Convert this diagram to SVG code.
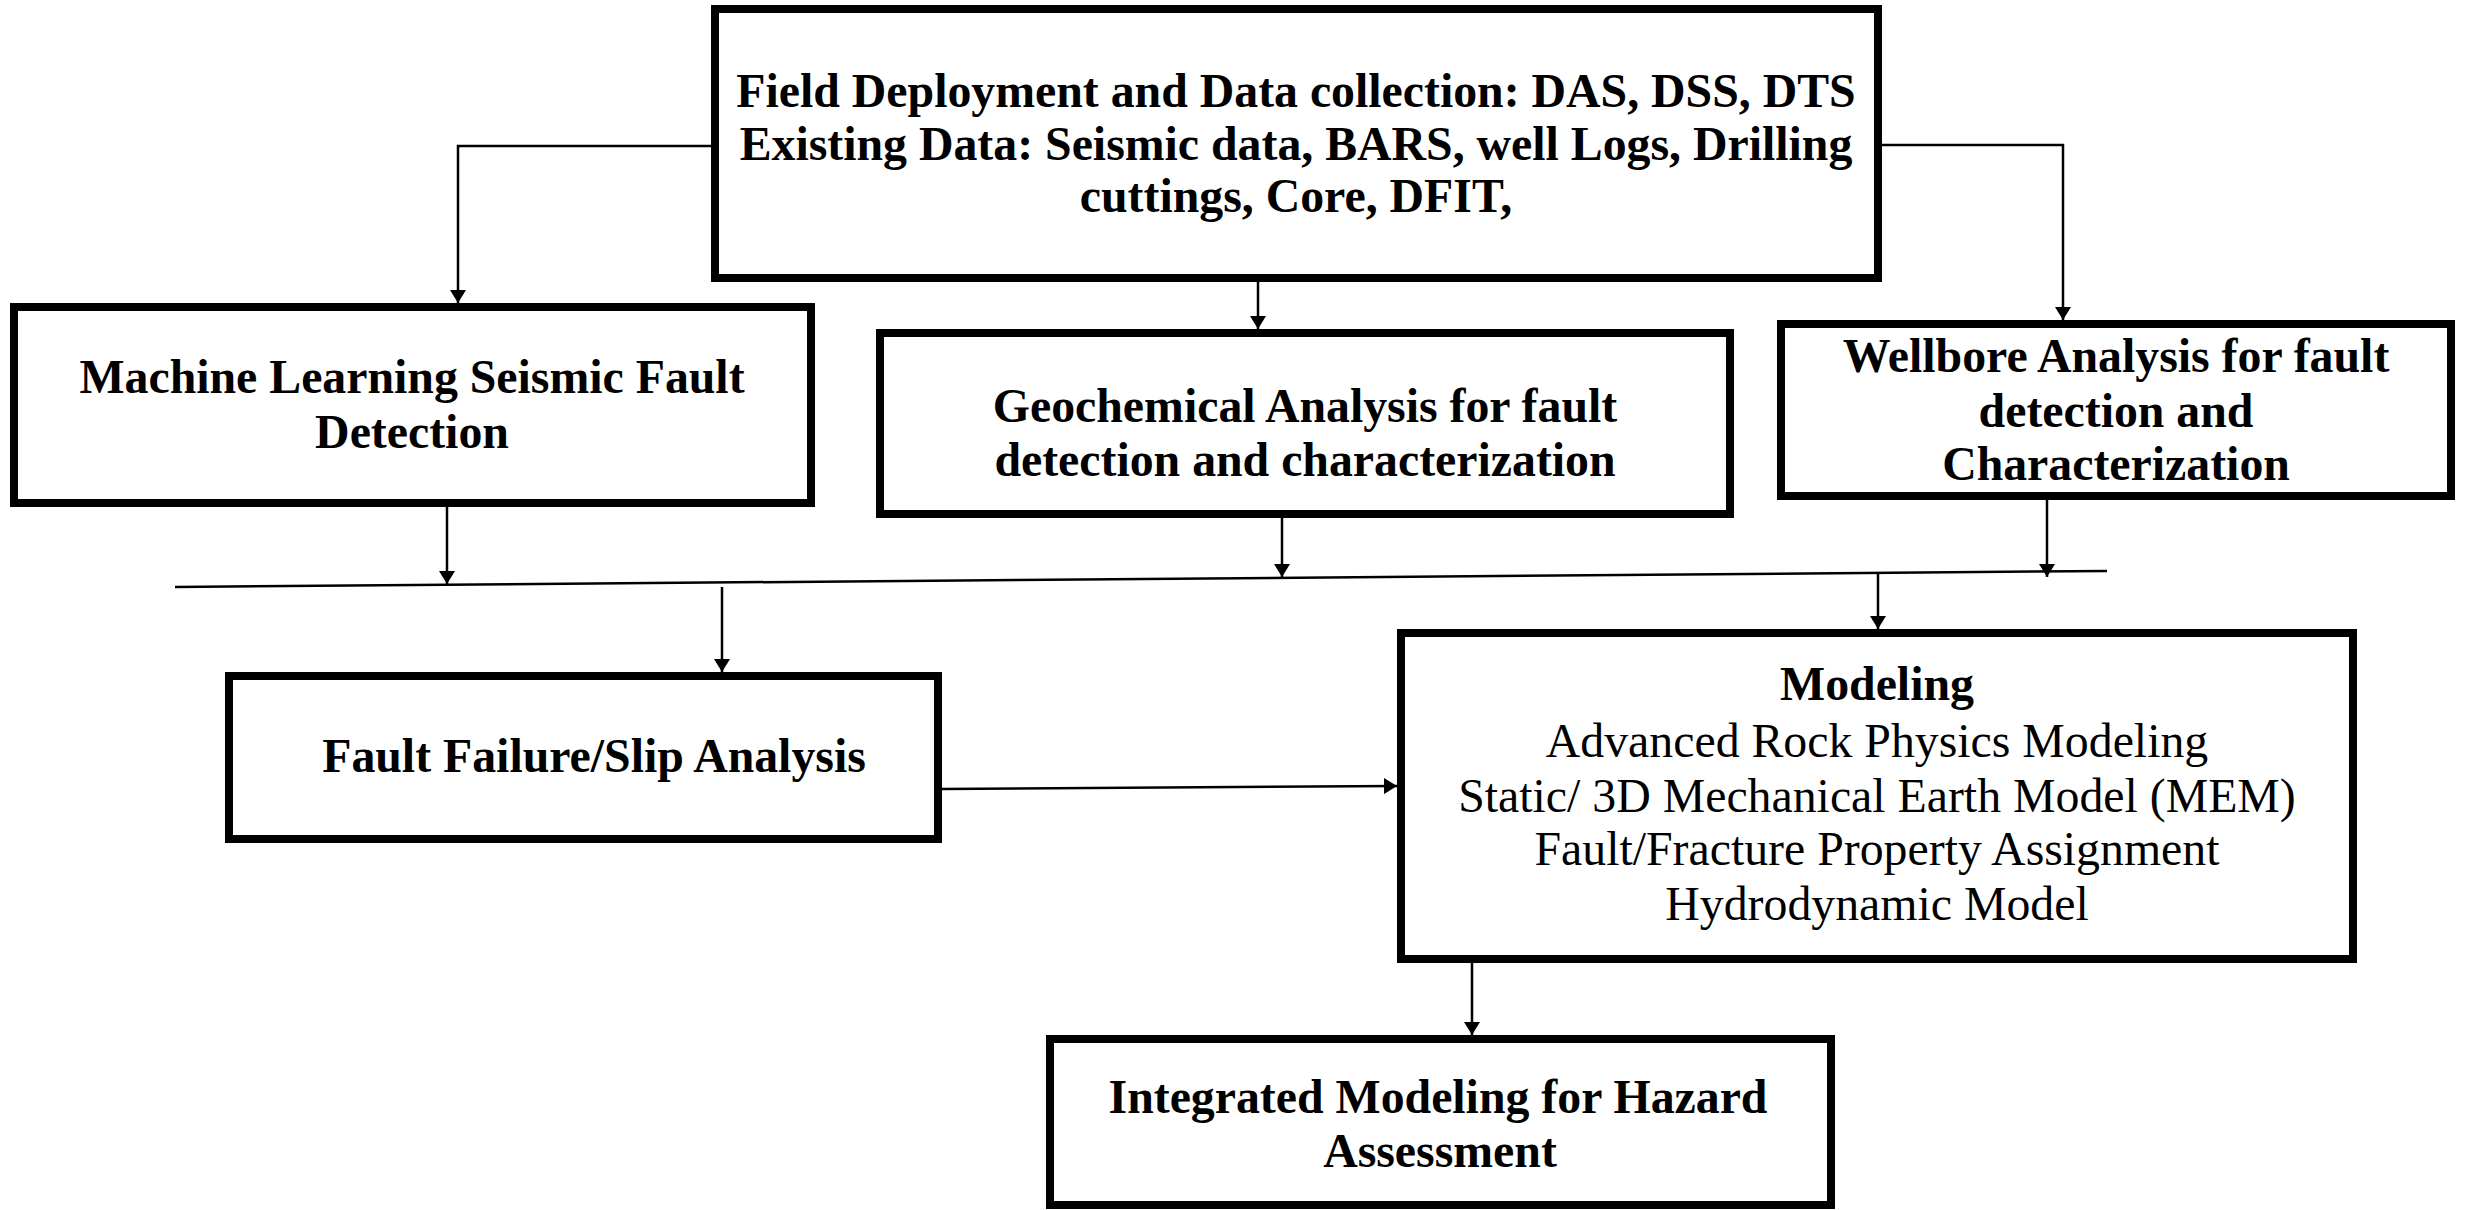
<svg xmlns="http://www.w3.org/2000/svg" width="2466" height="1210" viewBox="0 0 2466 1210">
  <style>
    .box { fill: #ffffff; stroke: #000000; stroke-width: 8; }
    .wire { fill: none; stroke: #000000; stroke-width: 2.5; }
    .arrow { marker-end: url(#head); }
    text { font-family: "Liberation Serif", "Times New Roman", serif; font-size: 47.8px; fill: #000000; text-anchor: middle; }
    .b { font-weight: bold; }
  </style>
  <defs>
    <marker id="head" markerUnits="userSpaceOnUse" viewBox="0 0 13 16" markerWidth="13" markerHeight="16" refX="13" refY="8" orient="auto">
      <path d="M0,0 L13,8 L0,16 z" fill="#000000"/>
    </marker>
  </defs>

  <rect width="2466" height="1210" fill="#ffffff"/>

  <!-- connectors -->
  <g id="connectors">
    <path class="wire arrow" d="M711,146 H458 V303"/>
    <path class="wire arrow" d="M1258,282 V329"/>
    <path class="wire arrow" d="M1882,145 H2063 V320"/>
    <path class="wire arrow" d="M447,507 V584"/>
    <path class="wire arrow" d="M1282,518 V577"/>
    <path class="wire arrow" d="M2047,500 V577"/>
    <path class="wire" d="M175,587 L2107,571" stroke-width="3"/>
    <path class="wire arrow" d="M722,587 V672"/>
    <path class="wire arrow" d="M1878,572 V629"/>
    <path class="wire arrow" d="M942,789 L1397,786"/>
    <path class="wire arrow" d="M1472,963 V1035"/>
  </g>

  <g id="data-collection">
    <rect class="box" x="715" y="9" width="1163" height="269"/>
    <text class="b" x="1296" y="107">Field Deployment and Data collection: DAS, DSS, DTS</text>
    <text class="b" x="1296" y="160">Existing Data: Seismic data, BARS, well Logs, Drilling</text>
    <text class="b" x="1296" y="212">cuttings, Core, DFIT,</text>
  </g>

  <g id="ml-fault-detection">
    <rect class="box" x="14" y="307" width="797" height="196"/>
    <text class="b" x="412" y="393">Machine Learning Seismic Fault</text>
    <text class="b" x="412" y="448">Detection</text>
  </g>

  <g id="geochemical-analysis">
    <rect class="box" x="880" y="333" width="850" height="181"/>
    <text class="b" x="1305" y="422">Geochemical Analysis for fault</text>
    <text class="b" x="1305" y="476">detection and characterization</text>
  </g>

  <g id="wellbore-analysis">
    <rect class="box" x="1781" y="324" width="670" height="172"/>
    <text class="b" x="2116" y="372">Wellbore Analysis for fault</text>
    <text class="b" x="2116" y="427">detection and</text>
    <text class="b" x="2116" y="480">Characterization</text>
  </g>

  <g id="fault-slip-analysis">
    <rect class="box" x="229" y="676" width="709" height="163"/>
    <text class="b" x="594" y="772">Fault Failure/Slip Analysis</text>
  </g>

  <g id="modeling">
    <rect class="box" x="1401" y="633" width="952" height="326"/>
    <text class="b" x="1877" y="700">Modeling</text>
    <text x="1877" y="757">Advanced Rock Physics Modeling</text>
    <text x="1877" y="812">Static/ 3D Mechanical Earth Model (MEM)</text>
    <text x="1877" y="865">Fault/Fracture Property Assignment</text>
    <text x="1877" y="920">Hydrodynamic Model</text>
  </g>

  <g id="integrated-modeling">
    <rect class="box" x="1050" y="1039" width="781" height="166"/>
    <text class="b" x="1438" y="1113">Integrated Modeling for Hazard</text>
    <text class="b" x="1440" y="1167">Assessment</text>
  </g>
</svg>
